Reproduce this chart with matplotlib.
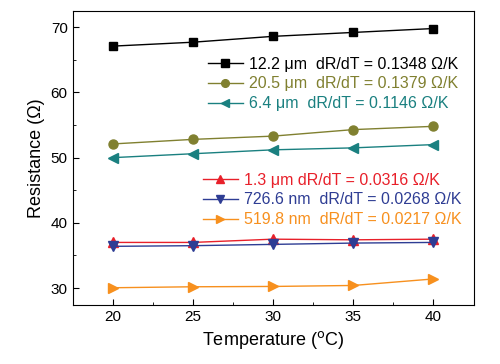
import matplotlib.pyplot as plt
from matplotlib.ticker import MultipleLocator

plt.rcParams['font.family'] = ['Liberation Sans', 'DejaVu Sans']

temps = [20, 25, 30, 35, 40]

r_12_2um = [67.1, 67.7, 68.6, 69.2, 69.8]
r_20_5um = [52.1, 52.8, 53.3, 54.3, 54.8]
r_6_4um = [50.0, 50.6, 51.2, 51.5, 52.0]
r_1_3um = [37.0, 37.0, 37.5, 37.4, 37.5]
r_726nm = [36.4, 36.5, 36.7, 36.9, 37.0]
r_519nm = [30.05, 30.2, 30.25, 30.4, 31.4]

labels_top = ['12.2 \u03bcm  dR/dT = 0.1348 \u03a9/K',
              '20.5 \u03bcm  dR/dT = 0.1379 \u03a9/K',
              '6.4 \u03bcm  dR/dT = 0.1146 \u03a9/K']
labels_bottom = ['1.3 \u03bcm dR/dT = 0.0316 \u03a9/K',
                 '726.6 nm  dR/dT = 0.0268 \u03a9/K',
                 '519.8 nm  dR/dT = 0.0217 \u03a9/K']

fig = plt.figure(figsize=(5, 3.64), dpi=100)
ax = fig.add_axes([0.145, 0.162, 0.802, 0.808])

h1, = ax.plot(temps, r_12_2um, '-s', color='black', lw=1, ms=6)
h2, = ax.plot(temps, r_20_5um, '-o', color='#808030', lw=1, ms=6.5)
h3, = ax.plot(temps, r_6_4um, '-<', color='#1a8080', lw=1, ms=7)
h4, = ax.plot(temps, r_1_3um, '-^', color='#e8202a', lw=1, ms=7)
h5, = ax.plot(temps, r_726nm, '-v', color='#2e3d94', lw=1, ms=7)
h6, = ax.plot(temps, r_519nm, '->', color='#f7901e', lw=1, ms=7)

ax.set_xlim(17.5, 42.5)
ax.set_ylim(27.4, 72.5)
ax.xaxis.set_major_locator(MultipleLocator(5))
ax.xaxis.set_minor_locator(MultipleLocator(2.5))
ax.yaxis.set_major_locator(MultipleLocator(10))
ax.yaxis.set_minor_locator(MultipleLocator(5))
ax.tick_params(which='both', direction='in', labelsize=11, top=False, right=False)
ax.tick_params(which='major', length=4)
ax.tick_params(which='minor', length=2.5)

ax.set_xlabel('Temperature ($^{\\rm o}$C)', fontsize=13)
ax.set_ylabel('Resistance (\u03a9)', fontsize=13)

leg_kw = dict(loc='upper left', frameon=False, fontsize=11.5, handlelength=2.2,
              handletextpad=0.4, labelspacing=0.3, borderaxespad=0, borderpad=0,
              markerscale=0.85)

leg1 = ax.legend([h1, h2, h3], labels_top, bbox_to_anchor=(0.337, 0.845), **leg_kw)
for t, h in zip(leg1.get_texts(), [h1, h2, h3]):
    t.set_color(h.get_color())
ax.add_artist(leg1)

leg2 = ax.legend([h4, h5, h6], labels_bottom, bbox_to_anchor=(0.325, 0.45), **leg_kw)
for t, h in zip(leg2.get_texts(), [h4, h5, h6]):
    t.set_color(h.get_color())

plt.savefig('out.png', dpi=100)
